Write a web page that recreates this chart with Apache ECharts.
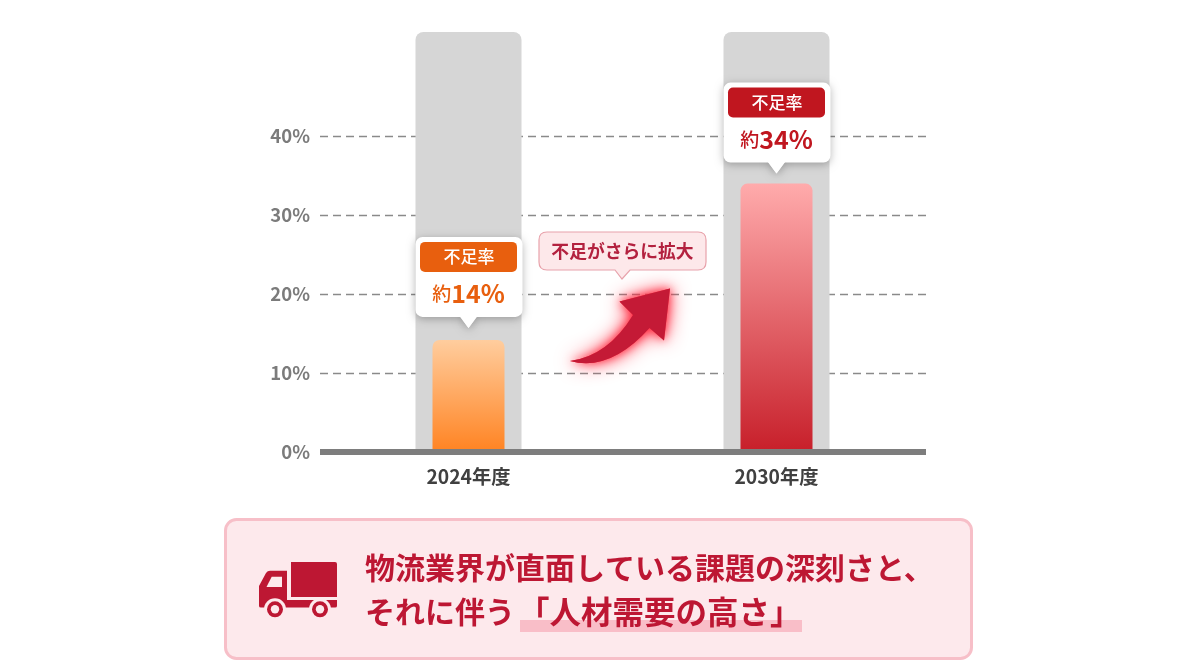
<!DOCTYPE html>
<html>
<head>
<meta charset="utf-8">
<style>
  html, body { margin: 0; padding: 0; background: #fff; }
  #chart { width: 1200px; height: 672px; }
</style>
<script src="https://cdn.jsdelivr.net/npm/echarts@6/dist/echarts.min.js"></script>
</head>
<body>
<div id="chart"></div>
<script>
const categories = ['2024年度', '2030年度']
const shortageRates = [14.2, 34]
const rateLabels = ['14%', '34%']
const trackValues = [53.2, 53.2]
const calloutTitle = '不足率'
const calloutPrefix = '約'
const bubbleText = '不足がさらに拡大'
const messageLine1 = '物流業界が直面している課題の深刻さと、'
const messageLine2 = 'それに伴う'
const messageHighlight = '「人材需要の高さ」'

const FONT = '"Noto Sans CJK JP", "Noto Sans", sans-serif'
const RED = '#bd1733'
const PANEL = '#fde9ec'
const accent = ['#e85f0e', '#c0161f']
const barTop = ['#ffcd9e', '#ffabac']
const barBottom = ['#ff8322', '#c71f2a']

const myChart = echarts.init(document.getElementById('chart'))

// 吹き出し（値の位置から上に積む）
function renderCallout(params, api) {
  const i = api.value(0)
  const tip = api.coord([i, api.value(1)])
  const cx = tip[0]
  const tipY = tip[1] - (i === 0 ? 12 : 10)
  const top = tipY - 91
  const shadow = { shadowBlur: 9, shadowColor: 'rgba(0,0,0,0.28)', shadowOffsetY: 2 }
  const tail = [[cx - 9, tipY - 12], [cx + 9, tipY - 12], [cx, tipY]]
  return {
    type: 'group',
    children: [
      { type: 'polygon', shape: { points: tail }, style: { fill: '#fff', ...shadow } },
      { type: 'rect', shape: { x: cx - 53, y: top, width: 107, height: 80, r: 7 }, style: { fill: '#fff', ...shadow } },
      { type: 'polygon', shape: { points: tail }, style: { fill: '#fff' } },
      { type: 'rect', shape: { x: cx - 48.5, y: top + 5, width: 97, height: 30, r: 5 }, style: { fill: accent[i] } },
      {
        type: 'text',
        style: {
          text: calloutTitle, x: cx + 0.5, y: top + 20, align: 'center', verticalAlign: 'middle',
          fontFamily: FONT, fontSize: 17, fontWeight: 500, fill: '#fff'
        }
      },
      {
        type: 'text',
        style: {
          text: '{a|' + calloutPrefix + '}{b|' + rateLabels[i] + '}',
          x: cx, y: top + 57, align: 'center', verticalAlign: 'middle',
          rich: {
            a: { fontFamily: FONT, fontSize: 19, fontWeight: 500, fill: accent[i], color: accent[i] },
            b: { fontFamily: FONT, fontSize: 25, fontWeight: 700, fill: accent[i], color: accent[i] }
          }
        }
      }
    ]
  }
}

// 矢印・吹き出し・下のメッセージ枠
function renderDecor() {
  const text = (t, x, y, size, weight, fill, align) => ({
    type: 'text',
    style: { text: t, x, y, align: align || 'left', verticalAlign: 'middle', fontFamily: FONT, fontSize: size, fontWeight: weight, fill }
  })
  const arrowPath = 'M570 361 Q608 356 633 315 L619.5 301.5 L670 288.5 L664 340.5 L649.5 328 Q610 372 570 361 Z'
  const bubblePath = 'M547 232 H698 Q706 232 706 240 V262 Q706 270 698 270 H630 L622 279 L615 270 H547 Q539 270 539 262 V240 Q539 232 547 232 Z'
  const truckPath = 'M291 562 H335 Q337 562 337 564 V597 H291 Z ' +
    'M259 586 L266 573 Q267.5 570.7 270 570.7 H287 V600 H337 V606 Q337 607.5 335 607.5 H261 Q259 607.5 259 606 Z'
  const wheel = (cx) => [
    { type: 'circle', shape: { cx, cy: 609.3, r: 11 }, style: { fill: PANEL } },
    { type: 'circle', shape: { cx, cy: 609.3, r: 8 }, style: { fill: RED } },
    { type: 'circle', shape: { cx, cy: 609.3, r: 4.2 }, style: { fill: PANEL } }
  ]
  return {
    type: 'group',
    children: [
      { type: 'path', shape: { pathData: arrowPath }, style: { fill: '#ff3a4c', shadowBlur: 20, shadowColor: '#ff2a40' } },
      { type: 'path', shape: { pathData: arrowPath }, style: { fill: '#c41a36', shadowBlur: 10, shadowColor: '#ff2a40' } },
      { type: 'path', shape: { pathData: bubblePath }, style: { fill: '#fde8ea', stroke: '#e8a2ab', lineWidth: 1.2 } },
      text(bubbleText, 622.5, 251, 17.8, 700, '#b3213f', 'center'),

      { type: 'rect', shape: { x: 225.5, y: 519.5, width: 746, height: 139, r: 11 }, style: { fill: PANEL, stroke: '#f7bfc8', lineWidth: 3 } },
      { type: 'path', shape: { pathData: truckPath }, style: { fill: RED } },
      { type: 'polygon', shape: { points: [[266.5, 587], [282, 587], [282, 576.7], [271.7, 576.7]] }, style: { fill: PANEL } },
      ...wheel(275),
      ...wheel(320),
      { type: 'rect', shape: { x: 520, y: 620, width: 282, height: 12 }, style: { fill: '#f9bec8' } },
      text(messageLine1, 365, 568, 30, 700, RED),
      text(messageLine2, 365, 612, 30, 700, RED),
      text(messageHighlight, 518, 612, 31.5, 700, RED)
    ]
  }
}

myChart.setOption({
  animation: false,
  backgroundColor: '#fff',
  textStyle: { fontFamily: FONT },
  grid: [
    // 棒と年度ラベル用
    { left: 314.5, width: 616, top: 32, height: 420 },
    // 目盛り線と基線用
    { left: 320, width: 606, top: 136, height: 316 }
  ],
  xAxis: [
    {
      type: 'category', gridIndex: 0, data: categories,
      axisLine: { show: false }, axisTick: { show: false },
      axisLabel: { margin: 15, fontSize: 19.3, fontWeight: 700, color: '#404040', fontFamily: FONT }
    },
    { type: 'category', gridIndex: 0, data: categories, show: false },
    {
      type: 'category', gridIndex: 1, data: categories, z: 5,
      axisLine: { lineStyle: { color: '#7d7d7d', width: 6, cap: 'butt' } },
      axisTick: { show: false }, axisLabel: { show: false }
    }
  ],
  yAxis: [
    { type: 'value', gridIndex: 0, min: 0, max: 53.2, show: false },
    {
      type: 'value', gridIndex: 1, min: 0, max: 40, interval: 10,
      axisLine: { show: false }, axisTick: { show: false },
      axisLabel: { margin: 10, padding: [2, 0, 0, 0], fontSize: 18.5, fontWeight: 700, color: '#7b7b7b', fontFamily: FONT, formatter: '{value}%' },
      splitLine: { lineStyle: { color: '#8a8a8a', width: 1.3, type: [8, 5] } }
    }
  ],
  series: [
    {
      name: 'track', type: 'bar', xAxisIndex: 1, yAxisIndex: 0, z: 1,
      barWidth: 106, data: trackValues,
      itemStyle: { color: '#d6d6d6', borderRadius: [8, 8, 0, 0] }
    },
    {
      name: '不足率', type: 'bar', xAxisIndex: 0, yAxisIndex: 0, z: 2,
      barWidth: 72,
      data: shortageRates.map((v, i) => ({
        value: v,
        itemStyle: {
          borderRadius: [7, 7, 0, 0],
          color: new echarts.graphic.LinearGradient(0, 0, 0, 1, [
            { offset: 0, color: barTop[i] },
            { offset: 1, color: barBottom[i] }
          ])
        }
      }))
    },
    {
      name: 'callout', type: 'custom', xAxisIndex: 0, yAxisIndex: 0, z: 3,
      clip: false, silent: true,
      renderItem: renderCallout,
      data: shortageRates.map((v, i) => [i, v])
    },
    {
      name: 'decor', type: 'custom', coordinateSystem: 'none', z: 4, silent: true,
      renderItem: renderDecor,
      data: [[0]]
    }
  ]
})
</script>
</body>
</html>
